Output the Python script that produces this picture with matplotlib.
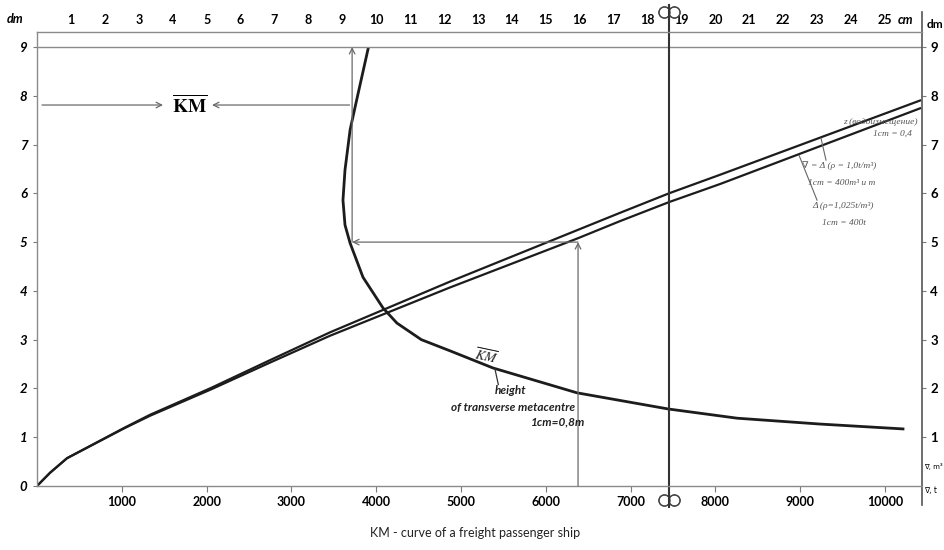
import matplotlib
matplotlib.use('Agg')
import matplotlib.pyplot as plt
from matplotlib.transforms import blended_transform_factory

# ---------------- data ----------------
# displacement curve, sea water (t) vs draft (dm)
disp_t = [0, 153, 354, 1026, 1333, 2052, 2748, 3455, 4870, 6380, 6875, 7453, 8054, 10425]
disp_dm = [0, 0.27, 0.57, 1.18, 1.44, 1.98, 2.53, 3.08, 4.07, 5.08, 5.43, 5.82, 6.19, 7.75]
# volume curve (m3) vs draft (dm)
vol_m3 = [0, 153, 354, 1026, 1333, 2052, 2748, 3455, 4870, 6875, 7453, 8054, 10425]
vol_dm = [0, 0.27, 0.57, 1.19, 1.46, 2.01, 2.58, 3.15, 4.19, 5.60, 6.00, 6.38, 7.91]
# KM curve: horizontal position in cm vs draft (dm)
km_cm = [9.76, 9.41, 9.23, 9.08, 9.02, 9.08, 9.23, 9.61, 10.20, 10.61, 11.33,
         12.18, 13.44, 15.92, 18.60, 20.64, 23.08, 25.53]
km_dm = [8.96, 7.87, 7.30, 6.48, 5.86, 5.35, 4.98, 4.28, 3.65, 3.34, 3.00,
         2.77, 2.42, 1.91, 1.58, 1.39, 1.27, 1.17]

x_ticks = [1000, 2000, 3000, 4000, 5000, 6000, 7000, 8000, 9000, 10000]
y_ticks = [0, 1, 2, 3, 4, 5, 6, 7, 8, 9]
right_ticks = [1, 2, 3, 4, 5, 6, 7, 8, 9]
cm_ticks = list(range(1, 26))

T_PER_CM = 400          # 1 cm = 400 t
x_construct = 6380      # construction displacement
draft_construct = 5.0   # construction draft
km_construct_cm = 9.29  # KM position at construction draft
km_label_dm = 7.81
mark_x = 7453           # thick vertical mark

XMAX, YMAX = 10436, 9.307

# ---------------- figure ----------------
fig = plt.figure(figsize=(9.45, 5.5), dpi=100)
ax = fig.add_axes([37/945, 64/550, 885/945, 454/550])
ax.set_xlim(0, XMAX)
ax.set_ylim(0, YMAX)

LINE = '#1c1c1c'
GRAY = '#7a7a7a'
SANS = ['Lato', 'DejaVu Sans']
SERIF = ['Liberation Serif', 'DejaVu Serif']

ax.plot(vol_m3, vol_dm, color=LINE, lw=1.6, solid_capstyle='butt')
ax.plot(disp_t, disp_dm, color=LINE, lw=1.6, solid_capstyle='butt')
ax.plot([c * T_PER_CM for c in km_cm], km_dm, color=LINE, lw=2.0)

# draft 9 line
ax.axhline(9.0, color='#8a8a8a', lw=1.0)

# spines
for s in ['left', 'bottom', 'top']:
    ax.spines[s].set_color('#8a8a8a')
    ax.spines[s].set_linewidth(1.0)
ax.spines['right'].set_visible(False)
ax.plot([1, 1], [-0.042, 1.044], transform=ax.transAxes, color='#555555',
        lw=1.2, clip_on=False)

# ticks
ax.set_xticks(x_ticks)
ax.set_xticklabels([str(v) for v in x_ticks], fontfamily=SANS,
                   fontweight='bold', fontsize=9)
ax.set_yticks(y_ticks)
ax.set_yticklabels([str(v) for v in y_ticks], fontfamily=SANS,
                   fontweight='bold', fontstyle='italic', fontsize=9.5)
ax.tick_params(axis='x', direction='out', length=4, width=0.8, color=GRAY, pad=3)
ax.tick_params(axis='y', direction='out', length=3, width=0.8, color=GRAY, pad=4)

ry = ax.secondary_yaxis('right')
ry.set_yticks(right_ticks)
ry.set_yticklabels([str(v) for v in right_ticks], fontfamily=SANS,
                   fontweight='bold', fontsize=9.5)
ry.tick_params(direction='out', length=3, width=0.8, color=GRAY, pad=3)
ry.spines['right'].set_visible(False)

tx = ax.secondary_xaxis('top', functions=(lambda x: x / T_PER_CM, lambda c: c * T_PER_CM))
tx.set_xticks(cm_ticks)
tx.set_xticklabels([str(v) for v in cm_ticks], fontfamily=SANS,
                   fontweight='bold', fontsize=9)
tx.tick_params(length=0, pad=4)
tx.spines['top'].set_visible(False)

# axis unit labels
fig.text(15/945, 1 - 19/550, 'dm', fontfamily=SANS, fontweight='bold',
         fontstyle='italic', fontsize=9, ha='center', va='center')
fig.text(943/945, 1 - 24/550, 'dm', fontfamily=SANS, fontweight='bold',
         fontsize=8.5, ha='right', va='center')
trx = blended_transform_factory(ax.transData, ax.transAxes)
ax.text(10236, 1.026, 'cm', transform=trx, fontfamily=SANS, fontweight='bold',
        fontstyle='italic', fontsize=9, ha='center', va='center')
fig.text(924/945, 1 - 467/550, '∇, m³', fontfamily=['DejaVu Sans'], fontsize=5,
         ha='left', va='center')
fig.text(924/945, 1 - 490/550, '∇, t', fontfamily=['DejaVu Sans'], fontsize=5.5,
         ha='left', va='center')

# thick vertical mark with symbols
ax.plot([mark_x, mark_x], [-0.042, 1.058], transform=trx, color='#333333',
        lw=1.5, clip_on=False)
for yy in (1.044, -0.031):
    ax.plot([mark_x - 55, mark_x + 55], [yy, yy], transform=trx, ls='none',
            marker='o', ms=8, mfc='white', mec='#444444', mew=0.9, clip_on=False)
    ax.plot([mark_x - 55, mark_x + 55], [yy, yy], transform=trx, ls='none',
            marker='o', ms=8, mfc='none', mec='#444444', mew=0.9, clip_on=False)
    ax.plot([mark_x, mark_x], [yy - 0.015, yy + 0.015], transform=trx,
            color='#333333', lw=1.5, clip_on=False)

# construction arrows
aprops = dict(arrowstyle='->', color='#6a6a6a', lw=0.9, shrinkA=0, shrinkB=0,
              mutation_scale=10)
km_c = km_construct_cm * T_PER_CM
ax.annotate('', xy=(x_construct, draft_construct), xytext=(x_construct, 0),
            arrowprops=aprops)
ax.annotate('', xy=(km_c, draft_construct), xytext=(x_construct, draft_construct),
            arrowprops=aprops)
ax.annotate('', xy=(km_c, 9.0), xytext=(km_c, draft_construct),
            arrowprops=aprops)
ax.annotate('', xy=(1486, km_label_dm), xytext=(59, km_label_dm), arrowprops=aprops)
ax.annotate('', xy=(2064, km_label_dm), xytext=(km_c - 30, km_label_dm),
            arrowprops=aprops)

plt.rcParams['mathtext.fontset'] = 'stix'
ax.text(1804, km_label_dm, r'$\mathbf{\overline{KM}}$', fontsize=14,
        ha='center', va='center')

# KM curve label
ax.text(5300, 2.66, r'$\overline{\mathit{KM}}$', fontsize=10, rotation=-12,
        ha='center', va='center', color='#222222')
ax.plot([5400, 5440], [2.40, 2.08], color='#333333', lw=0.9)
lab = dict(fontfamily=SANS, fontweight='bold', fontstyle='italic', fontsize=8.5,
           ha='center', va='center', color='#222222')
ax.text(5578, 1.95, 'height', **lab)
ax.text(5613, 1.60, 'of transverse metacentre', **lab)
ax.text(6144, 1.31, '1cm=0,8m', **lab)

# right-hand curve labels
sl = dict(fontfamily=SERIF, fontstyle='italic', fontsize=6.8, color='#555555',
          va='center')
ax.text(10389, 7.46, 'z (водоизмещение)', ha='right', **sl)
ax.text(10318, 7.22, '1cm = 0,4', ha='right', **sl)
ax.text(9021, 6.56, '∇ = Δ (ρ = 1,0t/m³)', ha='left', **sl)
ax.text(9092, 6.21, '1cm = 400m³ и т', ha='left', **sl)
ax.text(9139, 5.74, 'Δ (ρ=1,025t/m³)', ha='left', **sl)
ax.text(9257, 5.39, '1cm = 400t', ha='left', **sl)
ax.plot([9304, 9245], [6.68, 7.13], color='#666666', lw=0.8)
ax.plot([9198, 8986], [5.86, 6.78], color='#666666', lw=0.8)

# caption
fig.text(475/945, 1 - 533/550, 'KM - curve of a freight passenger ship',
         fontfamily=SANS, fontsize=9, ha='center', va='center', color='#222222')

fig.savefig('out.png', dpi=100)
